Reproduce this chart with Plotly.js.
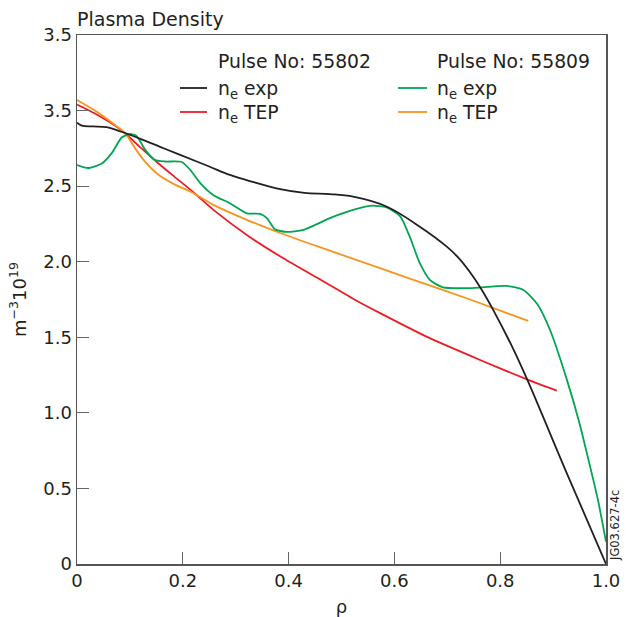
<!DOCTYPE html>
<html>
<head>
<meta charset="utf-8">
<script src="https://cdn.plot.ly/plotly-3.0.1.min.js"></script>
<style>html,body{margin:0;padding:0;background:#fff;}#chart{width:633px;height:617px;}</style>
</head>
<body>
<div id="chart"></div>
<script>
// ---- Data ----
// Pulse No: 55802, n_e exp (black)
const rho_55802_exp = [0, 0.009, 0.03, 0.056, 0.084, 0.122, 0.157, 0.195, 0.25, 0.289, 0.33, 0.384, 0.43, 0.478, 0.522, 0.585, 0.648, 0.699, 0.72, 0.743, 0.765, 0.787, 0.825, 0.853, 0.926, 1.0];
const ne_55802_exp  = [2.92, 2.90, 2.895, 2.89, 2.86, 2.81, 2.76, 2.707, 2.63, 2.574, 2.53, 2.48, 2.455, 2.447, 2.43, 2.365, 2.232, 2.10, 2.03, 1.93, 1.815, 1.68, 1.42, 1.205, 0.6, 0.0];
// Pulse No: 55802, n_e TEP (red)
const rho_55802_tep = [0, 0.034, 0.084, 0.122, 0.154, 0.185, 0.22, 0.258, 0.321, 0.39, 0.459, 0.526, 0.573, 0.667, 0.762, 0.853, 0.907];
const ne_55802_tep  = [3.04, 2.98, 2.87, 2.75, 2.65, 2.56, 2.46, 2.343, 2.177, 2.023, 1.884, 1.747, 1.66, 1.494, 1.35, 1.218, 1.147];
// Pulse No: 55809, n_e exp (green)
const rho_55809_exp = [0, 0.021, 0.047, 0.066, 0.084, 0.1, 0.113, 0.129, 0.147, 0.166, 0.198, 0.214, 0.233, 0.258, 0.289, 0.321, 0.346, 0.359, 0.374, 0.396, 0.428, 0.478, 0.51, 0.554, 0.585, 0.611, 0.629, 0.648, 0.667, 0.692, 0.743, 0.812, 0.844, 0.87, 0.894, 0.926, 0.95, 0.97, 0.985, 1.0];
const ne_55809_exp  = [2.64, 2.62, 2.65, 2.72, 2.82, 2.845, 2.83, 2.74, 2.674, 2.663, 2.66, 2.608, 2.52, 2.44, 2.387, 2.32, 2.316, 2.288, 2.215, 2.197, 2.21, 2.288, 2.33, 2.37, 2.36, 2.30, 2.166, 1.99, 1.88, 1.83, 1.825, 1.84, 1.813, 1.72, 1.55, 1.22, 0.93, 0.644, 0.42, 0.148];
// Pulse No: 55809, n_e TEP (orange)
const rho_55809_tep = [0, 0.034, 0.072, 0.091, 0.11, 0.129, 0.154, 0.185, 0.217, 0.258, 0.321, 0.384, 0.459, 0.636, 0.743, 0.853];
const ne_55809_tep  = [3.07, 3.0, 2.905, 2.85, 2.75, 2.66, 2.575, 2.51, 2.46, 2.376, 2.277, 2.19, 2.096, 1.88, 1.75, 1.608];

const xTickVals = [0, 0.2, 0.4, 0.6, 0.8, 1.0];
const xTickText = ['0', '0.2', '0.4', '0.6', '0.8', '1.0'];
const yTickVals = [0, 0.5, 1.0, 1.5, 2.0, 2.5, 3.0, 3.5];
const yTickText = ['0', '0.5', '1.0', '1.5', '2.0', '2.5', '3.5', '3.5'];

const pulseLabels = ['Pulse No: 55802', 'Pulse No: 55809'];
const seriesNames = ['n<sub>e</sub> exp', 'n<sub>e</sub> TEP'];

// ---- Styling ----
const C_BLACK = '#231f20', C_RED = '#ed1c24', C_GREEN = '#00a651', C_ORANGE = '#f7941d';
const FONT = 'DejaVu Sans, Arial, sans-serif';
const W = 633, H = 617, ML = 77, MR = 27, MT = 35, MB = 53;
const PW = W - ML - MR, PH = H - MT - MB;
const px2x = p => (p - ML) / PW;
const py2y = p => (H - MB - p) / PH;

function tr(x, y, color, sm) {
  return {x: x, y: y, type: 'scatter', mode: 'lines', showlegend: false, hoverinfo: 'skip',
          line: {color: color, width: 1.8, shape: 'spline', smoothing: sm}};
}
const data = [
  tr(rho_55802_tep, ne_55802_tep, C_RED, 0.6),
  tr(rho_55809_tep, ne_55809_tep, C_ORANGE, 0.6),
  tr(rho_55809_exp, ne_55809_exp, C_GREEN, 0.6),
  tr(rho_55802_exp, ne_55802_exp, C_BLACK, 1.0)
];

// Legend (two columns), drawn as annotations and sample lines
const legendCols = [
  {lineX0: 180, lineX1: 207, textX: 216, colors: [C_BLACK, C_RED]},
  {lineX0: 398, lineX1: 427, textX: 435, colors: [C_GREEN, C_ORANGE]}
];
const rowY = [88, 112];
const annotations = [];
const shapes = [];
legendCols.forEach((c, i) => {
  annotations.push({xref: 'paper', yref: 'paper', x: px2x(c.textX), y: py2y(61), xanchor: 'left', yanchor: 'middle',
                    text: pulseLabels[i], showarrow: false, font: {size: 18.8, color: C_BLACK, family: FONT}});
  rowY.forEach((ry, j) => {
    shapes.push({type: 'line', xref: 'paper', yref: 'paper', x0: px2x(c.lineX0), x1: px2x(c.lineX1), y0: py2y(ry), y1: py2y(ry),
                 line: {color: c.colors[j], width: 1.8}});
    annotations.push({xref: 'paper', yref: 'paper', x: px2x(c.textX), y: py2y(ry + 2), xanchor: 'left', yanchor: 'middle',
                      text: seriesNames[j], showarrow: false, font: {size: 18.8, color: C_BLACK, family: FONT}});
  });
});
annotations.push({xref: 'paper', yref: 'paper', x: px2x(615), y: py2y(526), xanchor: 'center', yanchor: 'middle',
                  text: 'JG03.627-4c', textangle: -90, showarrow: false, font: {size: 11.5, color: C_BLACK, family: FONT}});

const layout = {
  width: W, height: H,
  margin: {l: ML, r: MR, t: MT, b: MB, pad: 0},
  paper_bgcolor: '#fff', plot_bgcolor: '#fff',
  font: {family: FONT, size: 18, color: C_BLACK},
  title: {text: 'Plasma Density', x: 0, xref: 'paper', xanchor: 'left', y: 1 - 19 / H, yref: 'container', yanchor: 'middle',
          font: {size: 19, family: FONT, color: C_BLACK}},
  xaxis: {range: [0, 1], tickvals: xTickVals, ticktext: xTickText, ticks: 'inside', ticklen: 12, tickwidth: 1.2, tickcolor: '#666',
          showline: true, linecolor: '#555', linewidth: 1.5, mirror: true, showgrid: false, zeroline: false,
          tickfont: {size: 18, family: FONT, color: C_BLACK},
          title: {text: 'ρ', standoff: 10, font: {size: 18, family: FONT, color: C_BLACK}}},
  yaxis: {range: [0, 3.5], tickvals: yTickVals, ticktext: yTickText, ticks: 'inside', ticklen: 12, tickwidth: 1.2, tickcolor: '#666',
          showline: true, linecolor: '#555', linewidth: 1.5, mirror: true, showgrid: false, zeroline: false,
          tickfont: {size: 18, family: FONT, color: C_BLACK},
          title: {text: 'm<sup>−3</sup>10<sup>19</sup>', standoff: 12, font: {size: 18, family: FONT, color: C_BLACK}}},
  annotations: annotations,
  shapes: shapes,
  showlegend: false
};

Plotly.newPlot('chart', data, layout, {displayModeBar: false, staticPlot: true});
</script>
</body>
</html>
